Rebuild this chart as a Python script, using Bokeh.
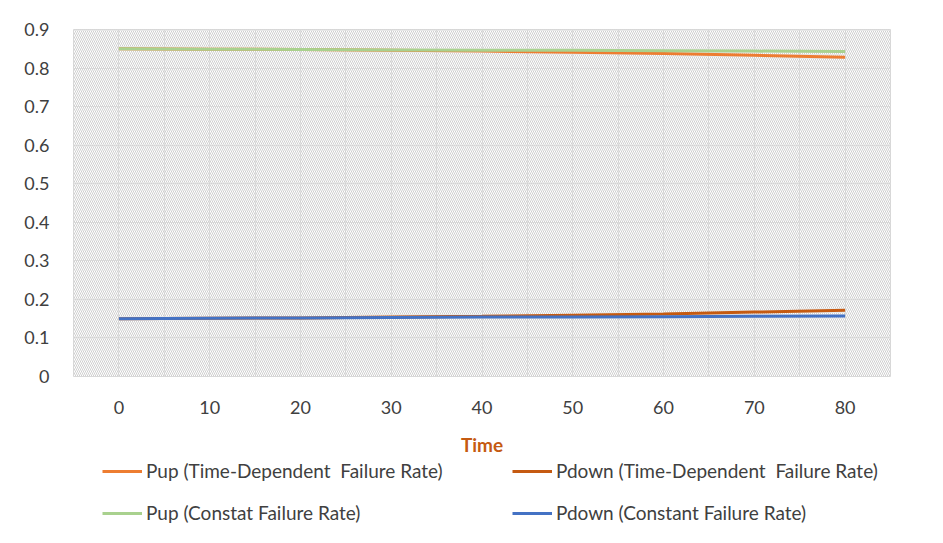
from bokeh.plotting import figure
from bokeh.layouts import column
from bokeh.models import (Range1d, FixedTicker, Legend, LegendItem, BoxAnnotation)
from bokeh.embed import file_html
from bokeh.resources import INLINE

# ---- data ----
time = [0, 10, 20, 30, 40, 50, 60, 70, 80]
pup_td = [0.850, 0.849, 0.848, 0.846, 0.844, 0.841, 0.838, 0.833, 0.828]
pdown_td = [0.150, 0.151, 0.152, 0.154, 0.156, 0.159, 0.162, 0.167, 0.172]
pup_const = [0.850, 0.849, 0.848, 0.847, 0.846, 0.846, 0.845, 0.844, 0.843]
pdown_const = [0.150, 0.151, 0.152, 0.153, 0.154, 0.154, 0.155, 0.156, 0.157]

series_names = ["Pup (Time-Dependent  Failure Rate)", "Pdown (Time-Dependent  Failure Rate)",
                "Pup (Constat Failure Rate)", "Pdown (Constant Failure Rate)"]
series_colors = ["#ED7D31", "#C55A11", "#A9D18E", "#4472C4"]

x_ticks = [0, 10, 20, 30, 40, 50, 60, 70, 80]
x_grid = [-5, 0, 5, 10, 15, 20, 25, 30, 35, 40, 45, 50, 55, 60, 65, 70, 75, 80, 85]
y_ticks = [0, 0.1, 0.2, 0.3, 0.4, 0.5, 0.6, 0.7, 0.8, 0.9]
y_tick_labels = ["0", "0.1", "0.2", "0.3", "0.4", "0.5", "0.6", "0.7", "0.8", "0.9"]
x_title = "Time"

FONT = "Lato"
TXT = "#404040"

all_series = [pup_td, pdown_td, pup_const, pdown_const]

p = figure(frame_width=817, frame_height=347, output_backend="svg", toolbar_location=None,
           x_range=Range1d(-5, 85), y_range=Range1d(0, 0.9),
           min_border_left=73, min_border_right=53, min_border_top=29, min_border_bottom=84)
p.background_fill_color = "white"
p.border_fill_color = "white"
p.outline_line_color = "#D9D9D9"
p.outline_line_width = 1

# hatched plot area
p.add_layout(BoxAnnotation(fill_alpha=0, line_alpha=0, hatch_pattern="\\", hatch_color="#CFCFCF",
                           hatch_scale=4, hatch_weight=1, level="underlay"))

p.xaxis.ticker = FixedTicker(ticks=x_ticks)
p.yaxis.ticker = FixedTicker(ticks=y_ticks)
p.yaxis.major_label_overrides = {t: l for t, l in zip(y_ticks, y_tick_labels)}
p.xgrid.ticker = FixedTicker(ticks=x_grid)
p.ygrid.ticker = FixedTicker(ticks=y_ticks)
for g in (p.xgrid, p.ygrid):
    g.grid_line_color = "#E3E3E3"
    g.grid_line_width = 1
    g.level = "underlay"

for ax in (p.xaxis, p.yaxis):
    ax.axis_line_color = None
    ax.major_tick_line_color = None
    ax.minor_tick_line_color = None
    ax.major_label_text_font = FONT
    ax.major_label_text_font_size = "18px"
    ax.major_label_text_color = TXT
p.yaxis.major_label_standoff = 18
p.xaxis.major_label_standoff = 18
p.xaxis.axis_label = x_title
p.xaxis.axis_label_text_font = FONT
p.xaxis.axis_label_text_font_style = "bold"
p.xaxis.axis_label_text_font_size = "19px"
p.xaxis.axis_label_text_color = "#C55A11"
p.xaxis.axis_label_standoff = 16

for ys, c in zip(all_series, series_colors):
    p.line(time, ys, line_color=c, line_width=3)

# legend strip below the chart (its series lie outside its view; only the legend shows)
q = figure(width=943, height=83, output_backend="svg", toolbar_location=None,
           x_axis_location=None, y_axis_location=None, min_border=0,
           x_range=Range1d(200, 300), y_range=Range1d(5, 6))
q.grid.visible = False
q.outline_line_color = None
q.background_fill_color = "white"
q.border_fill_color = "white"
leg_renderers = [q.line(time, ys, line_color=c, line_width=3)
                 for ys, c in zip(all_series, series_colors)]

lg = Legend(items=[LegendItem(label=n, renderers=[r]) for n, r in zip(series_names, leg_renderers)],
            location=(29, 19), orientation="horizontal", ncols=2, padding=0, margin=0,
            spacing=19, glyph_width=40, glyph_height=20, label_height=20, label_width=347,
            label_standoff=4, label_text_font=FONT, label_text_font_size="19px",
            label_text_color=TXT, background_fill_alpha=0, border_line_alpha=0)
q.add_layout(lg, "center")

layout = column(p, q, spacing=0)
open("out.html", "w").write(file_html(layout, INLINE))
